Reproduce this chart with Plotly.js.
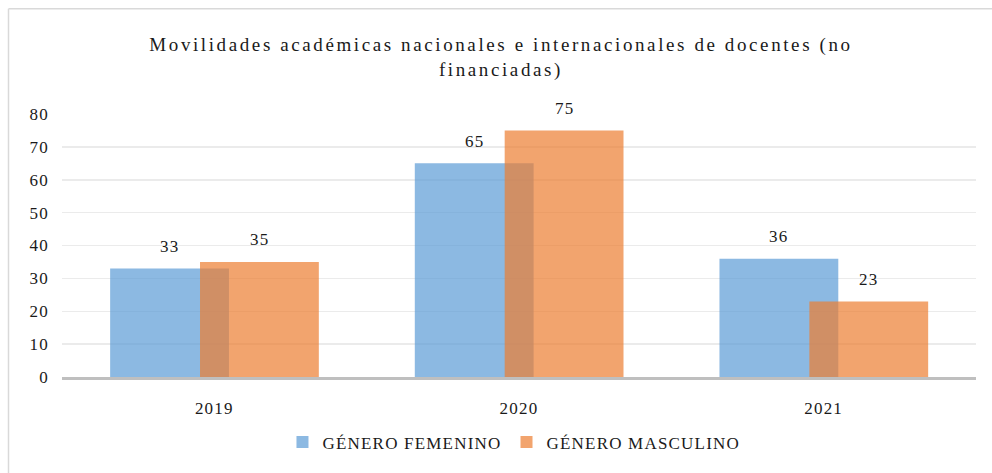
<!DOCTYPE html>
<html>
<head>
<meta charset="utf-8">
<script src="https://cdn.plot.ly/plotly-3.0.1.min.js"></script>
<style>
html,body{margin:0;padding:0;background:#fff;}
#chart{width:992px;height:473px;}
.gtitle{letter-spacing:2.6px;}
.legendtext, .xtick text, .ytick text, .annotation-text{letter-spacing:1.2px;}
</style>
</head>
<body>
<div id="chart"></div>
<script>
const categories = ['2019', '2020', '2021'];
const femenino = [33, 65, 36];
const masculino = [35, 75, 23];
const seriesNames = ['GÉNERO FEMENINO', 'GÉNERO MASCULINO'];
const titleText = 'Movilidades académicas nacionales e internacionales de docentes (no<br>financiadas)';

const font = "'Liberation Serif', 'Times New Roman', Times, serif";
const barW = 0.39;
const offF = -0.342;
const offM = -0.047;

const traces = [
  {type:'bar', name:seriesNames[0], x:categories, y:femenino, width:barW, offset:offF,
   marker:{color:'rgba(91,155,213,0.7)'}, hoverinfo:'none'},
  {type:'bar', name:seriesNames[1], x:categories, y:masculino, width:barW, offset:offM,
   marker:{color:'rgba(237,125,49,0.7)'}, hoverinfo:'none'}
];

const annotations = [];
categories.forEach((c,i)=>{
  annotations.push({x:i + offF + barW/2, y:femenino[i], text:String(femenino[i]), showarrow:false,
    yshift:22, yanchor:'middle', font:{family:font, size:17, color:'#1a1a1a'}});
  annotations.push({x:i + offM + barW/2, y:masculino[i], text:String(masculino[i]), showarrow:false,
    yshift:22, yanchor:'middle', font:{family:font, size:17, color:'#1a1a1a'}});
});

const layout = {
  width:992, height:473,
  margin:{l:62, r:16, t:114, b:95.5},
  paper_bgcolor:'#fff', plot_bgcolor:'#fff',
  barmode:'overlay',
  title:{text:titleText, x:0.505, xanchor:'center', y:(473-51)/473, yanchor:'middle', yref:'container',
    font:{family:font, size:19, color:'#1a1a1a'}},
  xaxis:{type:'category', range:[-0.5, 2.5], autorange:false, showgrid:false, showline:true, linecolor:'#BFBFBF', linewidth:3,
    ticks:'', tickfont:{family:font, size:17, color:'#1a1a1a'}, ticklabelstandoff:14, zeroline:false, fixedrange:true},
  yaxis:{range:[0,80], autorange:false, dtick:10, showgrid:true, gridcolor:'#EBEBEB', gridwidth:1.5, showline:false,
    zeroline:false, ticks:'', tickfont:{family:font, size:17, color:'#1a1a1a'}, ticklabelstandoff:12, fixedrange:true},
  showlegend:true,
  legend:{orientation:'h', x:0.4945, xanchor:'center', y:(377.5-443)/263.5, yanchor:'middle',
    font:{family:font, size:17, color:'#1a1a1a'}, itemwidth:30, tracegroupgap:0},
  annotations:annotations,
  shapes:[
    {type:'line', xref:'paper', yref:'paper', x0:(8.5-62)/914, x1:(992-62)/914+0.01, y0:(377.5-8.5)/263.5, y1:(377.5-8.5)/263.5,
      line:{color:'#D9D9D9', width:1.5}},
    {type:'line', xref:'paper', yref:'paper', x0:(8.5-62)/914, x1:(8.5-62)/914, y0:(377.5-8.5)/263.5, y1:(377.5-475)/263.5,
      line:{color:'#D9D9D9', width:1.5}}
  ]
};

Plotly.newPlot('chart', traces, layout, {displayModeBar:false, staticPlot:true});
</script>
</body>
</html>
